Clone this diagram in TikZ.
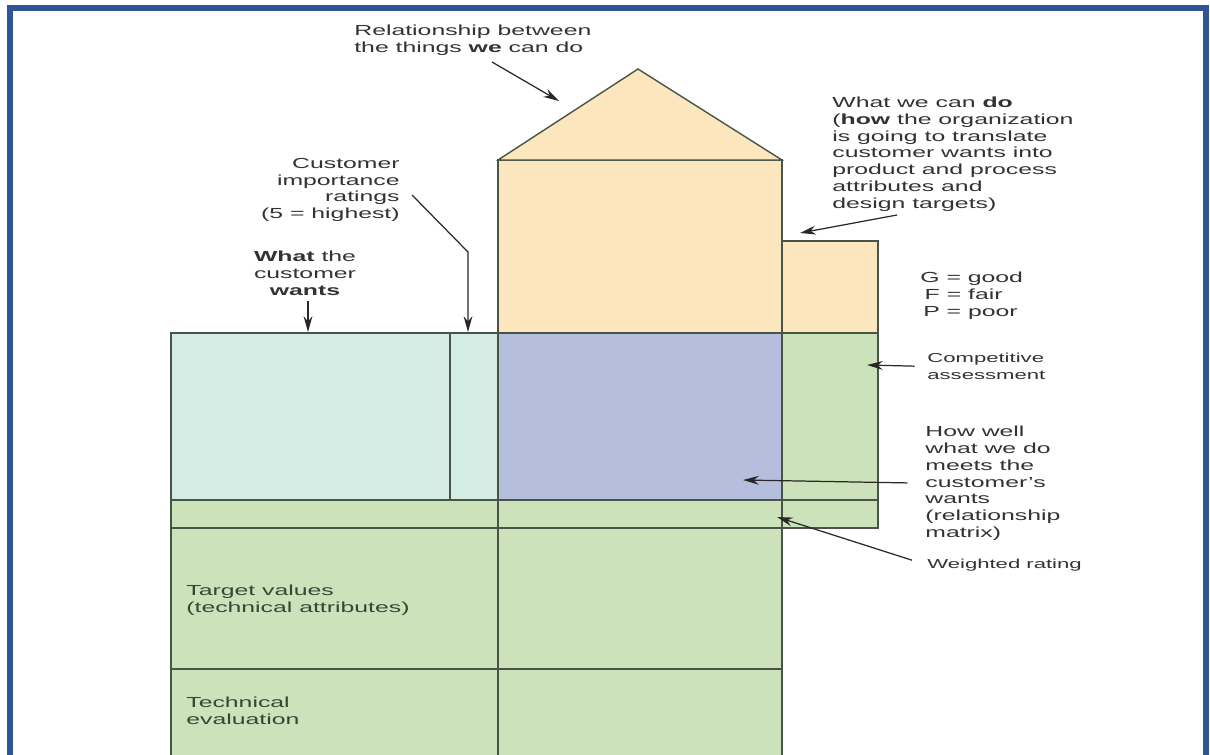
\documentclass[tikz,border=0pt]{standalone}
\usepackage{fontspec}
\setmainfont{Liberation Sans}[FakeStretch=1.7]
\usepackage{tikz}
\usetikzlibrary{calc,positioning,arrows.meta}

\definecolor{framecol}{RGB}{47,85,151}
\definecolor{edgecol}{RGB}{72,84,70}
\definecolor{arrowcol}{RGB}{40,40,40}
\definecolor{textgrey}{RGB}{50,50,50}
\definecolor{celltext}{RGB}{55,70,53}
\definecolor{roofcol}{RGB}{252,230,190}
\definecolor{matrixcol}{RGB}{182,190,222}
\definecolor{wantcol}{RGB}{211,236,228}
\definecolor{assesscol}{RGB}{204,226,186}

\begin{document}
\begin{tikzpicture}[x=0.02cm,y=-0.02cm,
		lbl/.style={inner sep=0pt,align=left,text=textgrey,font=\fontsize{8.3}{9.5}\selectfont},
		small/.style={font=\fontsize{7.4}{9.5}\selectfont},
		cell/.style={draw=edgecol,line width=0.8pt},
		pointer/.style={draw=arrowcol,line width=0.7pt,-{Stealth[length=9pt,width=5pt]}}]
		\useasboundingbox (0,0) rectangle (1210,754);
		\begin{scope}
			\clip (0,0) rectangle (1210,754);
			\filldraw[cell,fill=wantcol] (171,333) rectangle (450,500);
			\filldraw[cell,fill=wantcol] (450,333) rectangle (498,500);
			\filldraw[cell,fill=matrixcol] (498,333) rectangle (782,500);
			\filldraw[cell,fill=assesscol] (782,333) rectangle (878,500);
			\filldraw[cell,fill=assesscol] (782,500) rectangle (878,528);
			\foreach \ya/\yb in {500/528,528/669,669/800} {
				\filldraw[cell,fill=assesscol] (171,\ya) rectangle (498,\yb);
				\filldraw[cell,fill=assesscol] (498,\ya) rectangle (782,\yb);
			}
			\filldraw[cell,fill=roofcol] (498,160) rectangle (782,333);
			\filldraw[cell,fill=roofcol] (498,160) -- (638,69) -- (782,160) -- cycle;
			\filldraw[cell,fill=roofcol] (782,241) rectangle (878,333);
			\draw[framecol,line width=3pt] (10,800) -- (10,8) -- (1206,8) -- (1206,800);
		\end{scope}

		\node(rel) [lbl,anchor=north west] at (354,25) {Relationship between\\the things \textbf{we} can do};
		\node(do) [lbl,anchor=north west] at (832,97) {What we can \textbf{do}\\(\textbf{how} the organization\\is going to translate\\customer wants into\\product and process\\attributes and\\design targets)};
		\node(gfp) [lbl,anchor=north west] at (920,272) {G = good\\\hspace{0.3em}F = fair\\\hspace{0.2em}P = poor};
		\node(imp) [lbl,align=right,anchor=north east] at (400,158) {Customer\\importance\\ratings\\(5 = highest)};
		\node(wants) [lbl,align=center,anchor=north] at (305,251) {\textbf{What} the\\customer\\\textbf{wants}};
		\node(comp) [lbl,small,anchor=north west] at (927,353) {Competitive\\assessment};
		\node(well) [lbl,anchor=north west] at (925,426) {How well\\what we do\\meets the\\customer's\\wants\\(relationship\\matrix)};
		\node(weight) [lbl,small,anchor=west] at (927,565) {Weighted rating};
		\node(target) [lbl,text=celltext,anchor=north west] at (186,585) {Target values\\(technical attributes)};
		\node(tech) [lbl,text=celltext,anchor=north west] at (186,697) {Technical\\evaluation};

		\coordinate (relfrom) at (492,62);
		\coordinate (relto) at (559,101);
		\coordinate (dofrom) at (897,215);
		\coordinate (doto) at (800,233);
		\coordinate (impfrom) at (412,195);
		\coordinate (impbend) at (468,252);
		\coordinate (impto) at (468,332);
		\coordinate (wantsto) at (308,332);
		\coordinate (compto) at (867,365);
		\coordinate (wellto) at (743,480);
		\coordinate (weightto) at (777,517);

		\draw[pointer] (relfrom) -- (relto);
		\draw[pointer] (dofrom) -- (doto);
		\draw[pointer] (impfrom) -- (impbend) -- (impto);
		\draw[pointer,shorten <=3pt] (wants.south -| wantsto) -- (wantsto);
		\draw[pointer,shorten <=7pt] (comp.west) -- (compto);
		\draw[pointer,shorten <=10pt] (well.west) -- (wellto);
		\draw[pointer,shorten <=9pt] (weight.west) -- (weightto);
\end{tikzpicture}
\end{document}
